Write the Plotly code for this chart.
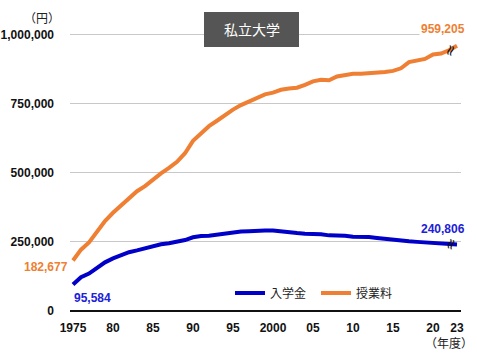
import plotly.graph_objects as go

years = list(range(1975, 2024))
tuition = [182677, 221844, 248066, 286568, 325198, 355156, 380253, 406261, 433200, 451722,
           475325, 497826, 517395, 539591, 570584, 615486, 641608, 668460, 688046, 708847,
           728365, 744733, 757158, 770024, 783298, 789659, 799973, 804367, 807413, 817952,
           830583, 836297, 834751, 848178, 851621, 858265, 857763, 859367, 860266, 864384,
           868447, 877735, 900093, 904146, 911716, 927705, 930943, 943000, 959205]
admission = [95584, 121888, 135205, 157019, 175999, 190113, 200645, 212650, 219200, 225820,
             235769, 241275, 245263, 251124, 256600, 266603, 271151, 271948, 275824, 280892,
             282574, 287581, 288471, 290799, 290815, 290815, 286746, 284006, 281724, 279794,
             280033, 277262, 273564, 273602, 272169, 268924, 269481, 267608, 264390, 261089,
             256069, 253461, 252030, 249985, 248813, 245951, 245000, 243000, 240806]
x_tickvals = [1975, 1980, 1985, 1990, 1995, 2000, 2005, 2010, 2015, 2020, 2023]
x_ticktext = ["1975", "80", "85", "90", "95", "2000", "05", "10", "15", "20", "23"]
y_tickvals = [0, 250000, 500000, 750000, 1000000]
title_text = "私立大学"

BLUE = "#0000C8"
BLUE_T = "#2020D8"
ORANGE = "#EE7F33"
NUM_FONT = "Liberation Sans"
JP_FONT = "Noto Sans CJK JP"

fig = go.Figure()
fig.add_trace(go.Scatter(x=years, y=admission, mode="lines", name="入学金",
                         line=dict(color=BLUE, width=4)))
fig.add_trace(go.Scatter(x=years, y=tuition, mode="lines", name="授業料",
                         line=dict(color=ORANGE, width=4)))

W, H = 477, 353
L, R, T, B = 70, 16, 30, 42
pw, ph = W - L - R, H - T - B

def px_x(p):
    return (p - L) / pw

def px_y(p):
    return (H - B - p) / ph

fig.update_layout(
    width=W, height=H,
    margin=dict(l=L, r=R, t=T, b=B, pad=0, autoexpand=False),
    paper_bgcolor="white", plot_bgcolor="white",
    showlegend=True,
    legend=dict(orientation="h", x=px_x(230), y=px_y(293), xanchor="left", yanchor="middle",
                font=dict(family=JP_FONT, size=12, color="#222"),
                bgcolor="rgba(0,0,0,0)", entrywidth=41, traceorder="normal",
                itemwidth=30),
    xaxis=dict(range=[1974.625, 2023.5], tickvals=x_tickvals, ticktext=x_ticktext,
               showgrid=False, zeroline=False, showline=False, ticks="",
               tickfont=dict(family=NUM_FONT, size=12, color="#111", weight="bold"),
               ticklabelstandoff=8, automargin=False, fixedrange=True),
    yaxis=dict(range=[0, 1016275], tickvals=y_tickvals, tickformat=",d",
               showgrid=True, gridcolor="#C8C8C8", gridwidth=1,
               zeroline=True, zerolinecolor="#111", zerolinewidth=1.5,
               showline=False, ticks="",
               tickfont=dict(family=NUM_FONT, size=12, color="#111", weight="bold"),
               ticklabelstandoff=15, automargin=False, fixedrange=True),
)

# title box
fig.add_shape(type="rect", xref="paper", yref="paper",
              x0=px_x(204), x1=px_x(299), y0=px_y(47), y1=px_y(12),
              fillcolor="#555555", line=dict(width=0), layer="above")
fig.add_annotation(xref="paper", yref="paper", x=px_x(251.5), y=px_y(29.5),
                   xanchor="center", yanchor="middle",
                   text=title_text, showarrow=False,
                   font=dict(family=JP_FONT, size=14, color="white"))

# unit labels
fig.add_annotation(xref="paper", yref="paper", x=px_x(42), y=px_y(17),
                   xanchor="center", yanchor="middle",
                   text="（円）", showarrow=False,
                   font=dict(family=JP_FONT, size=12, color="#222"))
fig.add_annotation(xref="paper", yref="paper", x=px_x(449), y=px_y(342),
                   xanchor="center", yanchor="middle",
                   text="（年度）", showarrow=False,
                   font=dict(family=JP_FONT, size=12, color="#222"))

# value labels
fig.add_annotation(x=years[-1], y=tuition[-1], xanchor="right", yanchor="bottom",
                   xshift=10, yshift=8, text=f"{tuition[-1]:,}", showarrow=False,
                   bgcolor="white", borderpad=1,
                   font=dict(family=NUM_FONT, size=12, color=ORANGE, weight="bold"))
fig.add_annotation(x=years[-1], y=admission[-1], xanchor="right", yanchor="bottom",
                   xshift=10, yshift=6, text=f"{admission[-1]:,}", showarrow=False,
                   font=dict(family=NUM_FONT, size=12, color=BLUE_T, weight="bold"))
fig.add_annotation(x=years[0], y=tuition[0], xanchor="right", yanchor="top",
                   xshift=-3, yshift=2, text=f"{tuition[0]:,}", showarrow=False,
                   font=dict(family=NUM_FONT, size=12, color=ORANGE, weight="bold"))
fig.add_annotation(x=years[0], y=admission[0], xanchor="left", yanchor="top",
                   xshift=-1, yshift=-4, text=f"{admission[0]:,}", showarrow=False,
                   font=dict(family=NUM_FONT, size=12, color=BLUE_T, weight="bold"))

# break marks
for series in (tuition, admission):
    fig.add_annotation(x=2022.2, y=series[-2], text="≈", showarrow=False, textangle=-70,
                       xanchor="center", yanchor="middle",
                       font=dict(family="DejaVu Sans", size=15, color="#111"))

fig.write_html("out.html")
